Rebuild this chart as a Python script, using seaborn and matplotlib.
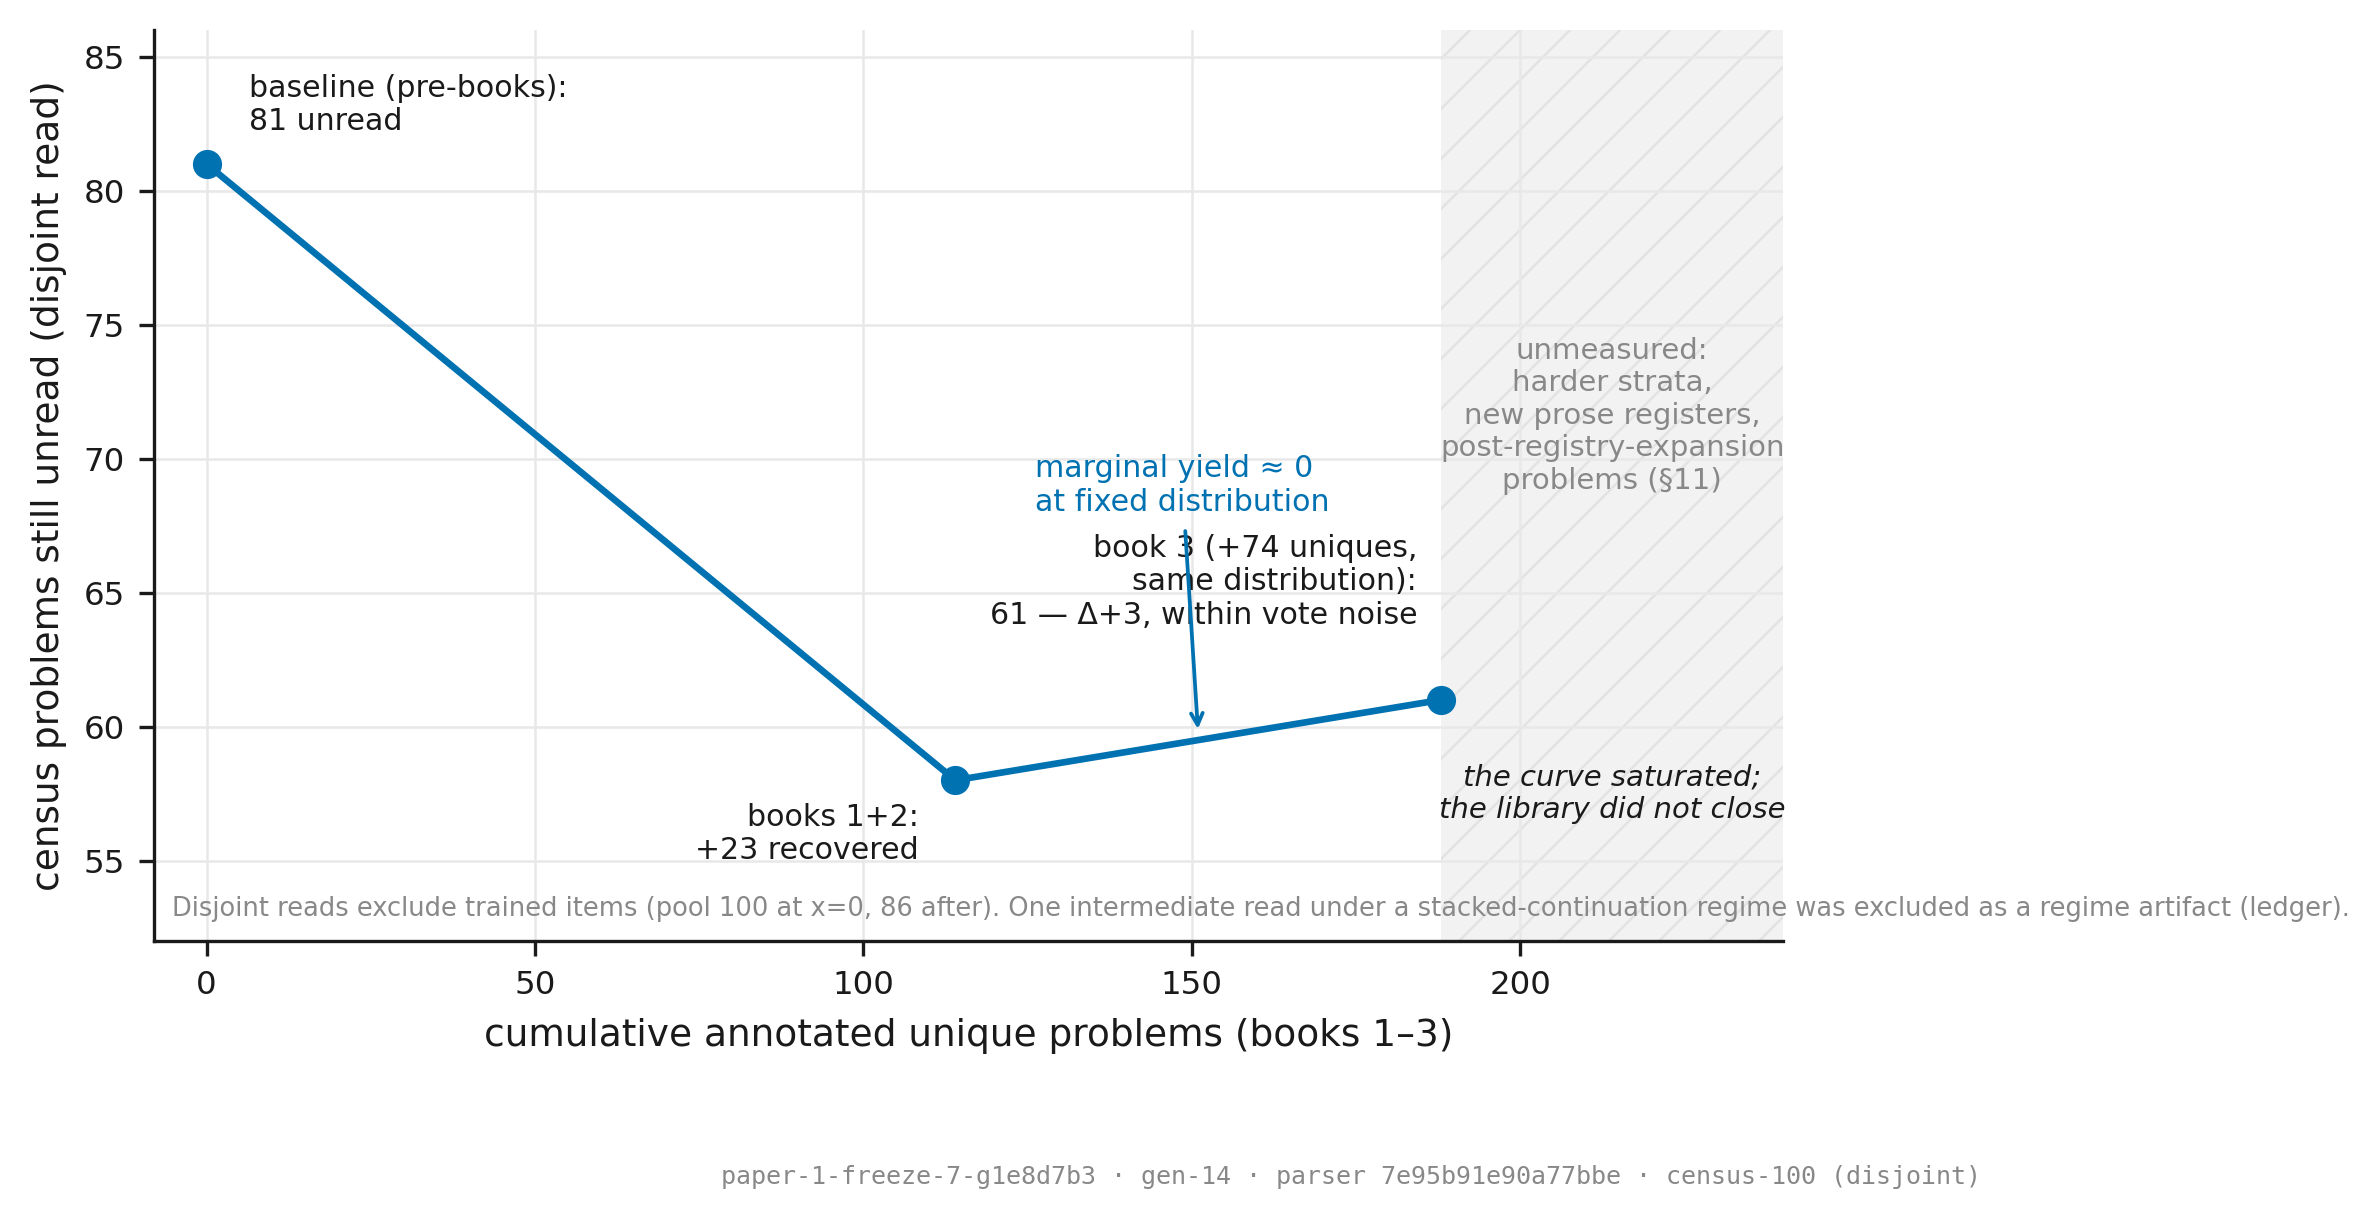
import matplotlib
matplotlib.use("Agg")
import matplotlib.pyplot as plt
import seaborn as sns
import pandas as pd

# data
books_x = [0, 114, 188]
unread_y = [81, 58, 61]
x_ticks = [0, 50, 100, 150, 200]
y_ticks = [55, 60, 65, 70, 75, 80, 85]
unmeasured_span = [188, 240]

BLUE = "#0072B2"
GRAY = "#888888"
DARK = "#1a1a1a"

sns.set_theme(style="ticks")
plt.rcParams["font.family"] = ["DejaVu Sans"]
plt.rcParams["hatch.linewidth"] = 0.6
plt.rcParams["hatch.color"] = "#e3e3e3"

fig = plt.figure(figsize=(2378 / 300, 1215 / 300), dpi=300)
ax = fig.add_axes([154 / 2378, 1 - 941 / 1215, (1783 - 154) / 2378, (941 - 30) / 1215])

df = pd.DataFrame({"x": books_x, "y": unread_y})

ax.axvspan(unmeasured_span[0], unmeasured_span[1], facecolor="#f2f2f2",
           edgecolor="#e3e3e3", hatch="//", linewidth=0, zorder=0)

sns.lineplot(data=df, x="x", y="y", ax=ax, color=BLUE, linewidth=1.6,
             marker="o", markersize=7, markeredgewidth=0, zorder=3)

ax.set_xlim(-8, 240)
ax.set_ylim(52, 86)
ax.set_xticks(x_ticks)
ax.set_yticks(y_ticks)
ax.grid(True, color="#e8e8e8", linewidth=0.6, zorder=0)
ax.set_axisbelow(True)
sns.despine(ax=ax)
ax.tick_params(labelsize=7.8, width=0.8, length=3.5, color=DARK, labelcolor=DARK)
for s in ax.spines.values():
    s.set_linewidth(0.8)
    s.set_color(DARK)

ax.set_xlabel("cumulative annotated unique problems (books 1–3)", fontsize=9, color=DARK)
ax.set_ylabel("census problems still unread (disjoint read)", fontsize=9, color=DARK)

fs = 7.2
ax.text(6.5, 83.2, "baseline (pre-books):\n81 unread", ha="left", va="center",
        fontsize=fs, color=DARK)
ax.text(108.4, 56.0, "books 1+2:\n+23 recovered", ha="right", va="center",
        fontsize=fs, color=DARK, multialignment="right")
ax.text(184.3, 65.4, "book 3 (+74 uniques,\nsame distribution):\n61 — Δ+3, within vote noise",
        ha="right", va="center", fontsize=fs, color=DARK, multialignment="right")
ax.text(126.2, 69.0, "marginal yield ≈ 0\nat fixed distribution", ha="left", va="center",
        fontsize=fs, color=BLUE)
ax.annotate("", xy=(151, 59.6), xytext=(149, 67.3),
            arrowprops=dict(arrowstyle="->", color=BLUE, lw=0.9, shrinkA=0, shrinkB=2,
                            mutation_scale=7))
ax.text(214, 71.6, "unmeasured:\nharder strata,\nnew prose registers,\npost-registry-expansion\nproblems (§11)",
        ha="center", va="center", fontsize=7.0, color=GRAY)
ax.text(214, 57.5, "the curve saturated;\nthe library did not close", ha="center", va="center",
        fontsize=7.0, color=DARK, style="italic")

ax.text(0.011, 0.035, "Disjoint reads exclude trained items (pool 100 at x=0, 86 after). "
        "One intermediate read under a stacked-continuation regime was excluded as a regime artifact (ledger).",
        transform=ax.transAxes, ha="left", va="center", fontsize=6.2, color=GRAY)

fig.text(1351 / 2378, 1 - 1177 / 1215,
         "paper-1-freeze-7-g1e8d7b3 · gen-14 · parser 7e95b91e90a77bbe · census-100 (disjoint)",
         ha="center", va="center", fontsize=6, color=GRAY, family="DejaVu Sans Mono")

fig.savefig("out.png", dpi=300)
